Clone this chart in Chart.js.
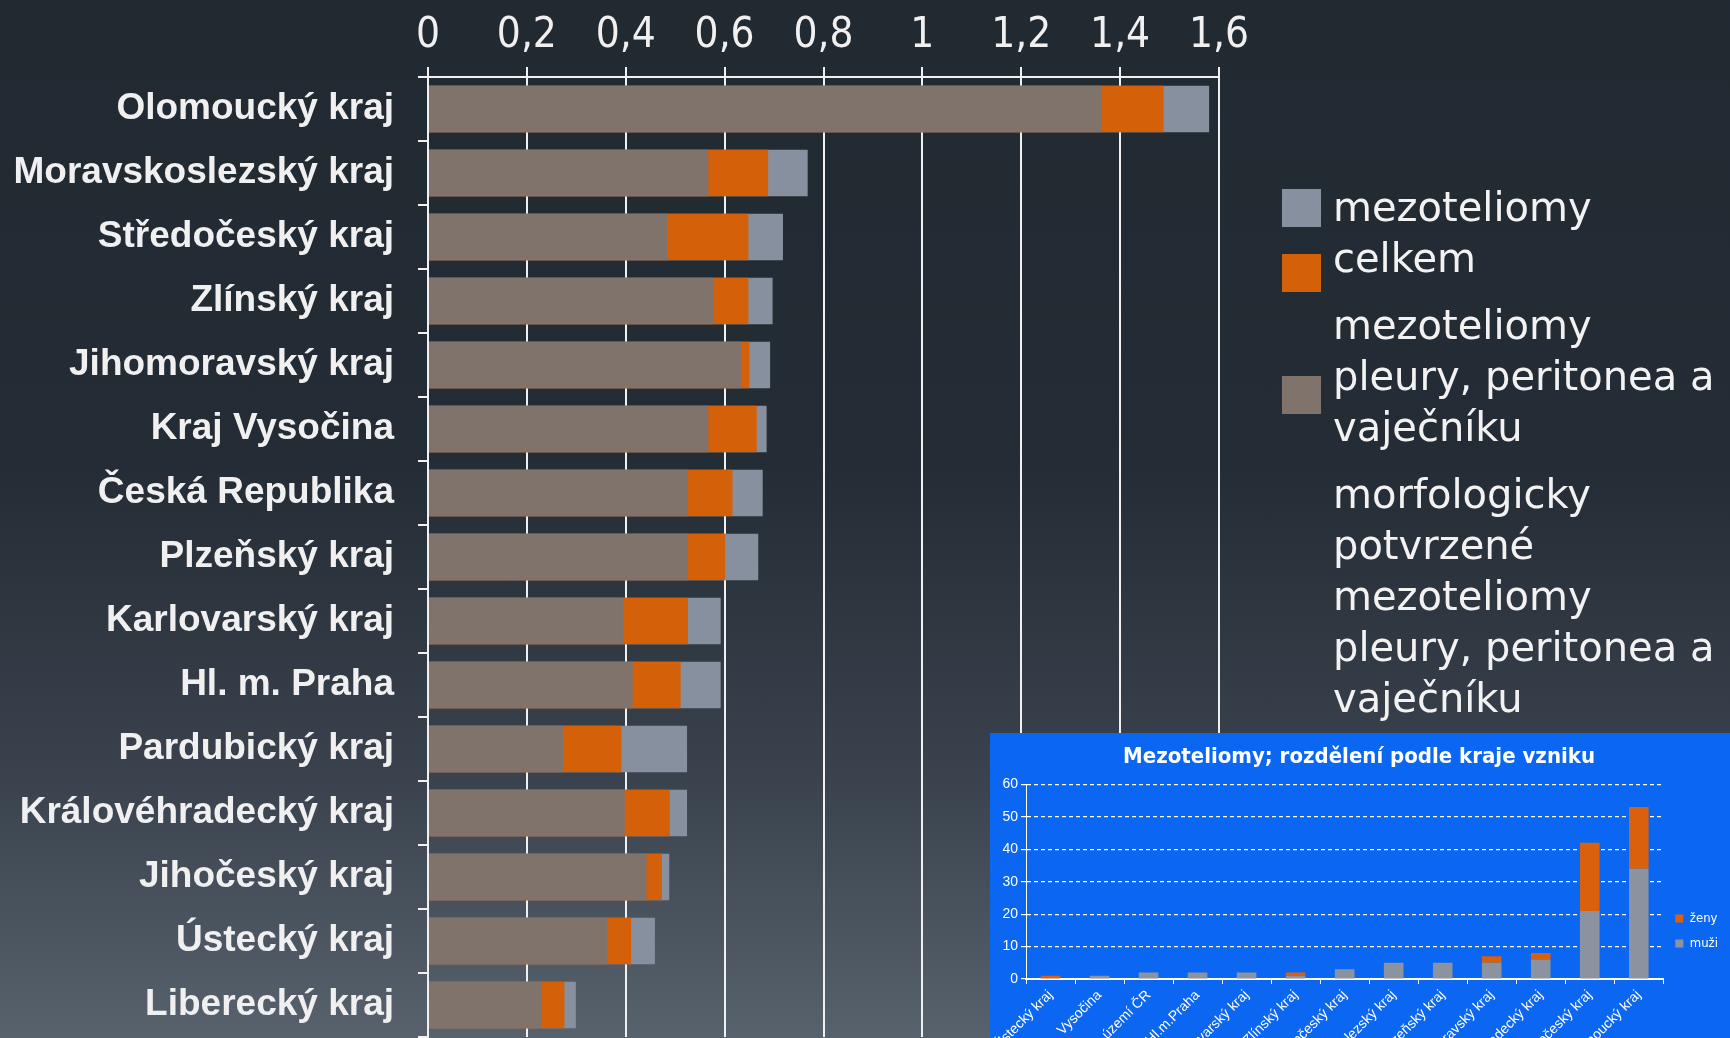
<!DOCTYPE html>
<html lang="cs">
<head>
<meta charset="UTF-8">
<title>Mezoteliomy podle krajů</title>
<script src="https://cdn.jsdelivr.net/npm/chart.js"></script>
<style>
  html, body { margin: 0; padding: 0; }
  body {
    width: 1730px; height: 1038px; overflow: hidden; position: relative;
    background: linear-gradient(to bottom, #212931 0%, #242c35 45%, #3a434d 75%, #58626c 100%);
  }
  #mainChart { position: absolute; left: 0; top: 0; }
  #legend { position: absolute; left: 0; top: 0; }
  .lg-box { position: absolute; left: 1282px; width: 39px; height: 38px; }
  .lg-text {
    position: absolute; left: 1333px; width: 400px;
    font-family: "DejaVu Sans", sans-serif; font-weight: normal; font-size: 40px; line-height: 51px;
    color: #f2f2f2;
  }
  #inset { position: absolute; left: 990px; top: 733px; width: 740px; height: 305px; overflow: hidden; background: #0b66f2; }
  #insetChart { position: absolute; left: 0; top: 0; }
</style>
</head>
<body>
<canvas id="mainChart" width="1730" height="1038"></canvas>
<div id="legend"></div>
<div id="inset"><canvas id="insetChart" width="740" height="396"></canvas></div>

<script>
// main chart data (values per 100 000 inhabitants)
const regions = ['Olomoucký kraj', 'Moravskoslezský kraj', 'Středočeský kraj', 'Zlínský kraj', 'Jihomoravský kraj',
  'Kraj Vysočina', 'Česká Republika', 'Plzeňský kraj', 'Karlovarský kraj', 'Hl. m. Praha', 'Pardubický kraj',
  'Královéhradecký kraj', 'Jihočeský kraj', 'Ústecký kraj', 'Liberecký kraj'];
const morfologicky = [1.363, 0.567, 0.484, 0.578, 0.633, 0.567, 0.526, 0.526, 0.395, 0.414, 0.273, 0.398, 0.442, 0.362, 0.230];
const pleury = [1.488, 0.688, 0.648, 0.648, 0.650, 0.665, 0.616, 0.601, 0.526, 0.511, 0.391, 0.489, 0.473, 0.411, 0.276];
const celkem = [1.580, 0.768, 0.718, 0.697, 0.692, 0.685, 0.677, 0.668, 0.592, 0.592, 0.524, 0.524, 0.488, 0.459, 0.299];
const xTickLabels = ['0', '0,2', '0,4', '0,6', '0,8', '1', '1,2', '1,4', '1,6'];
const seriesNames = ['morfologicky potvrzené mezoteliomy pleury, peritonea a vaječníku',
  'mezoteliomy pleury, peritonea a vaječníku', 'mezoteliomy celkem'];
const seriesColors = ['#80736b', '#d4600a', '#87909e'];

// inset chart data (counts)
const insetTitle = 'Mezoteliomy; rozdělení podle kraje vzniku';
const insetRegions = ['Ústecký kraj', 'Vysočina', 'území ČR', 'Hl.m.Praha', 'Karlovarský kraj', 'Zlínský kraj',
  'Jihočeský kraj', 'Moravskoslezský kraj', 'Plzeňský kraj', 'Jihomoravský kraj', 'Královéhradecký kraj',
  'Středočeský kraj', 'Olomoucký kraj'];
const muzi = [0, 1, 2, 2, 2, 1, 3, 5, 5, 5, 6, 21, 34];
const zeny = [1, 0, 0, 0, 0, 1, 0, 0, 0, 2, 2, 21, 19];
const insetSeries = ['muži', 'ženy'];

const WHITE = '#f0f0f0';
const narrow = '"Liberation Sans Narrow", "Arial Narrow", "DejaVu Sans Condensed", sans-serif';
const arial = '"Liberation Sans", Arial, sans-serif';

// overlapping bars: first dataset is drawn on top
const values = [morfologicky, pleury, celkem];
const mainChart = new Chart(document.getElementById('mainChart'), {
  type: 'bar',
  data: {
    labels: regions,
    datasets: values.map((v, i) => ({
      label: seriesNames[i],
      data: v,
      backgroundColor: seriesColors[i],
      grouped: false,
      barPercentage: 0.73,
      categoryPercentage: 1
    }))
  },
  options: {
    indexAxis: 'y',
    responsive: false,
    animation: false,
    layout: { padding: { left: 0, right: 511, top: 0, bottom: 1 } },
    plugins: { legend: { display: false }, tooltip: { enabled: false } },
    scales: {
      x: {
        position: 'top',
        min: 0, max: 1.6,
        ticks: {
          stepSize: 0.2,
          color: WHITE,
          padding: 6,
          font: { family: narrow, size: 42 },
          callback: (v, i) => xTickLabels[i]
        },
        grid: { color: WHITE, lineWidth: 2, tickLength: 10 },
        border: { color: WHITE, width: 2 },
        afterFit: s => { s.height = 77; }
      },
      y: {
        ticks: {
          color: WHITE,
          padding: 24,
          font: { family: arial, size: 37, weight: 'bold' }
        },
        grid: { display: true, drawOnChartArea: false, offset: true, color: WHITE, lineWidth: 2, tickLength: 10 },
        border: { color: WHITE, width: 2 },
        afterFit: s => { s.width = 428; s.paddingTop = 0; s.paddingBottom = 0; }
      }
    }
  }
});

// legend built from the chart's datasets (reverse order like the original)
const legendBoxTops = [189, 254, 376];
const legendTextTops = [182, 300, 469];
const lg = document.getElementById('legend');
mainChart.data.datasets.slice().reverse().forEach((ds, i) => {
  const box = document.createElement('div');
  box.className = 'lg-box';
  box.style.top = legendBoxTops[i] + 'px';
  box.style.background = ds.backgroundColor;
  lg.appendChild(box);
  const txt = document.createElement('div');
  txt.className = 'lg-text';
  txt.style.top = legendTextTops[i] + 'px';
  txt.textContent = ds.label;
  lg.appendChild(txt);
});

// inset stacked column chart
new Chart(document.getElementById('insetChart'), {
  type: 'bar',
  data: {
    labels: insetRegions,
    datasets: [
      { label: insetSeries[0], data: muzi, backgroundColor: '#8c93a0' },
      { label: insetSeries[1], data: zeny, backgroundColor: '#d9600c' }
    ]
  },
  options: {
    responsive: false,
    animation: false,
    layout: { padding: { left: 0, right: 2, top: 0, bottom: 0 } },
    datasets: { bar: { barPercentage: 0.4, categoryPercentage: 1 } },
    plugins: {
      tooltip: { enabled: false },
      title: {
        display: true, text: insetTitle, color: '#ffffff',
        font: { family: narrow, size: 22, weight: 'bold' },
        padding: { top: 11, bottom: 14 }
      },
      legend: {
        position: 'right', reverse: true,
        labels: { color: '#ffffff', boxWidth: 8, boxHeight: 8, padding: 12, font: { family: narrow, size: 13 } }
      }
    },
    scales: {
      x: {
        stacked: true,
        ticks: {
          color: '#ffffff', autoSkip: false, minRotation: 45, maxRotation: 45, padding: 3,
          font: { family: arial, size: 14 }
        },
        grid: { display: true, drawOnChartArea: false, offset: true, color: '#ffffff', lineWidth: 1, tickLength: 5 },
        border: { color: '#ffffff', width: 2 },
        afterFit: s => { s.height = 150; }
      },
      y: {
        stacked: true, min: 0, max: 60,
        ticks: { stepSize: 10, color: '#ffffff', padding: 3, font: { family: arial, size: 14 } },
        grid: { color: '#ffffff', lineWidth: 1.2, tickLength: 5, tickBorderDash: [] },
        border: { color: '#ffffff', width: 1, dash: [4, 3] },
        afterFit: s => { s.width = 36; }
      }
    }
  }
});
</script>
</body>
</html>
